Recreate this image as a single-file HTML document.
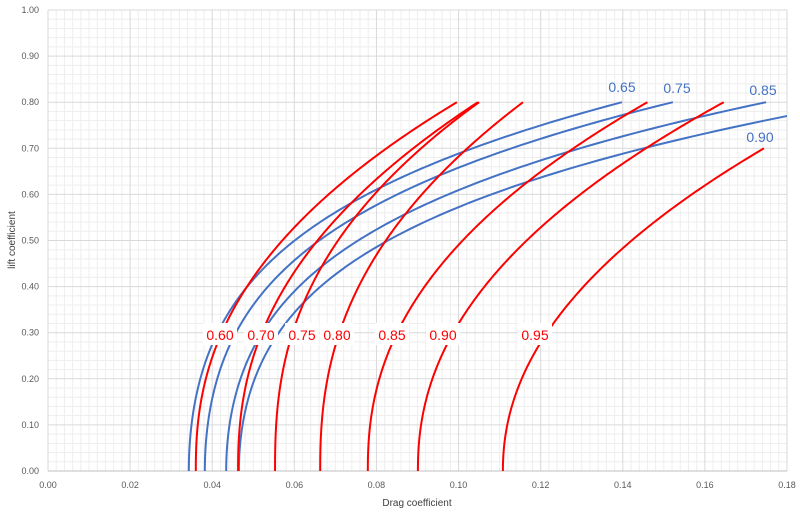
<!DOCTYPE html>
<html><head><meta charset="utf-8"><style>
body{margin:0;background:#fff;width:800px;height:520px;overflow:hidden}
svg{font-family:"Liberation Sans",sans-serif}
</style></head><body>
<svg id="s" width="800" height="520" xmlns="http://www.w3.org/2000/svg">
<defs><clipPath id="c"><rect x="48" y="10" width="739" height="461"/></clipPath></defs>
<g id="grid"></g>
<g id="curves" clip-path="url(#c)"></g>
<g id="labels"></g>
<text x="417" y="506" font-size="10" fill="#404040" text-anchor="middle">Drag coefficient</text>
<text transform="translate(15,240) rotate(-90)" font-size="10" fill="#404040" text-anchor="middle">lift coefficient</text>
</svg>
<script>
const NS="http://www.w3.org/2000/svg";
const X0=48,X1=787,Y0=471,Y1=10;
const px=v=>X0+v/0.18*(X1-X0), py=v=>Y0-v*(Y0-Y1);
function el(p,t,a,txt){const e=document.createElementNS(NS,t);for(const k in a)e.setAttribute(k,a[k]);if(txt!==undefined)e.textContent=txt;p.appendChild(e);return e;}
const g=document.getElementById('grid');
for(let i=0;i<=90;i++){const x=px(i*0.002);if(i%10)el(g,'line',{x1:x,x2:x,y1:Y1,y2:Y0,stroke:'#eeeeee','stroke-width':1});}
for(let i=0;i<=50;i++){const y=py(i*0.02);if(i%5)el(g,'line',{x1:X0,x2:X1,y1:y,y2:y,stroke:'#eeeeee','stroke-width':1});}
for(let i=0;i<=9;i++){const x=px(i*0.02);el(g,'line',{x1:x,x2:x,y1:Y1,y2:Y0,stroke:'#d9d9d9','stroke-width':1});
 el(g,'text',{x:x,y:488,'font-size':9,fill:'#595959','text-anchor':'middle'},(i*0.02).toFixed(2));}
for(let i=0;i<=10;i++){const y=py(i*0.1);el(g,'line',{x1:X0,x2:X1,y1:y,y2:y,stroke:i==0?'#bfbfbf':'#d9d9d9','stroke-width':1});
 el(g,'text',{x:39,y:y+3,'font-size':9,fill:'#595959','text-anchor':'end'},(i*0.1).toFixed(2));}
const cg=document.getElementById('curves');
function curve(x0,xe,ce,n,cmax,col){const k=(xe-x0)/Math.pow(ce,n);let d='';
 for(let i=0;i<=200;i++){const c=cmax*i/200;const x=x0+k*Math.pow(c,n);d+=(i?'L':'M')+px(x).toFixed(2)+','+py(c).toFixed(2);}
 el(cg,'path',{d:d,fill:'none',stroke:col,'stroke-width':2});}
function bcurve(x0,xe,ce,cmax){const D=xe-x0;let d='';
 for(let i=0;i<=200;i++){const c=cmax*i/200;const r=c/ce;const x=x0+D*(0.386*r*r+0.614*r*r*r*r);d+=(i?'L':'M')+px(x).toFixed(2)+','+py(c).toFixed(2);}
 el(cg,'path',{d:d,fill:'none',stroke:'#4472c4','stroke-width':2});}
// blue
bcurve(0.0343,0.1398,0.8,0.8);
bcurve(0.0382,0.1522,0.8,0.8);
bcurve(0.0434,0.1749,0.8,0.8);
bcurve(0.0465,0.18,0.77,0.82);
// red
curve(0.0360,0.0996,0.8,2.35,0.8,'#ff0000');
curve(0.0463,0.1047,0.8,2.35,0.8,'#ff0000');
curve(0.0553,0.1050,0.8,2.5,0.8,'#ff0000');
curve(0.0663,0.1157,0.8,2.4,0.8,'#ff0000');
curve(0.0779,0.1460,0.8,2.3,0.8,'#ff0000');
curve(0.0901,0.1646,0.8,2.2,0.8,'#ff0000');
curve(0.1108,0.1744,0.7,2.1,0.7,'#ff0000');
const lg=document.getElementById('labels');
[['0.60',220],['0.70',261],['0.75',302],['0.80',337],['0.85',392],['0.90',443],['0.95',535]].forEach(([t,x])=>{
 el(lg,'rect',{x:x-17,y:323,width:34,height:22,fill:'#fff'});
 el(lg,'text',{x:x,y:340,'font-size':14,fill:'#ff0000','text-anchor':'middle'},t);});
[['0.65',622,92],['0.75',677,93],['0.85',763,95],['0.90',760,142]].forEach(([t,x,y])=>{
 el(lg,'text',{x:x,y:y,'font-size':14,fill:'#4472c4','text-anchor':'middle'},t);});
</script>
</body></html>
